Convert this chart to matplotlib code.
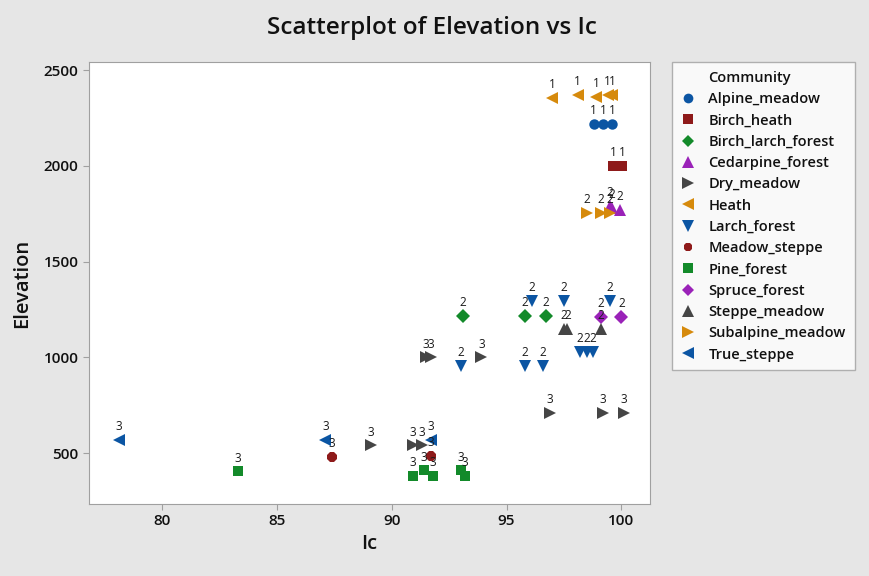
import matplotlib
matplotlib.use("Agg")
import matplotlib.pyplot as plt
from matplotlib.lines import Line2D

plt.rcParams['font.family'] = ['Open Sans', 'DejaVu Sans']

communities = ["Alpine_meadow", "Birch_heath", "Birch_larch_forest", "Cedarpine_forest",
               "Dry_meadow", "Heath", "Larch_forest", "Meadow_steppe", "Pine_forest",
               "Spruce_forest", "Steppe_meadow", "Subalpine_meadow", "True_steppe"]

ic = {
    "Alpine_meadow": [98.8, 99.2, 99.6],
    "Birch_heath": [99.65, 100.05],
    "Birch_larch_forest": [93.1, 95.8, 96.7],
    "Cedarpine_forest": [99.5, 99.6, 99.95],
    "Dry_meadow": [91.5, 91.7, 93.9, 96.9, 99.2, 100.1, 89.1, 90.9, 91.3],
    "Heath": [97.0, 98.1, 98.9, 99.4, 99.6],
    "Larch_forest": [96.1, 97.5, 99.5, 93.0, 95.8, 96.6, 98.2, 98.5, 98.75],
    "Meadow_steppe": [87.4, 91.7],
    "Pine_forest": [83.3, 90.9, 91.4, 91.8, 93.0, 93.2],
    "Spruce_forest": [99.1, 100.0],
    "Steppe_meadow": [97.5, 97.65, 99.1],
    "Subalpine_meadow": [98.5, 99.1, 99.5],
    "True_steppe": [78.1, 87.1, 91.7],
}
elevation = {
    "Alpine_meadow": [2220, 2220, 2220],
    "Birch_heath": [2000, 2000],
    "Birch_larch_forest": [1215, 1215, 1215],
    "Cedarpine_forest": [1790, 1780, 1770],
    "Dry_meadow": [1000, 1000, 1000, 710, 710, 710, 540, 540, 540],
    "Heath": [2355, 2370, 2360, 2370, 2370],
    "Larch_forest": [1295, 1295, 1295, 955, 955, 955, 1030, 1030, 1030],
    "Meadow_steppe": [482, 485],
    "Pine_forest": [405, 380, 410, 380, 410, 380],
    "Spruce_forest": [1210, 1210],
    "Steppe_meadow": [1150, 1150, 1150],
    "Subalpine_meadow": [1755, 1755, 1755],
    "True_steppe": [570, 570, 568],
}
group_label = {
    "Alpine_meadow": "1", "Birch_heath": "1", "Birch_larch_forest": "2",
    "Cedarpine_forest": "2", "Dry_meadow": "3", "Heath": "1", "Larch_forest": "2",
    "Meadow_steppe": "3", "Pine_forest": "3", "Spruce_forest": "2",
    "Steppe_meadow": "2", "Subalpine_meadow": "2", "True_steppe": "3",
}

blue = "#0B55A3"
red = "#8E1A1A"
green = "#138A2A"
purple = "#9A22B8"
gray = "#454545"
orange = "#D68A0C"
style = {
    "Alpine_meadow": ("o", blue, 7.5),
    "Birch_heath": ("s", red, 7.5),
    "Birch_larch_forest": ("D", green, 7),
    "Cedarpine_forest": ("^", purple, 9),
    "Dry_meadow": (">", gray, 9),
    "Heath": ("<", orange, 9),
    "Larch_forest": ("v", blue, 9),
    "Meadow_steppe": ("8", red, 7.5),
    "Pine_forest": ("s", green, 7.5),
    "Spruce_forest": ("D", purple, 7),
    "Steppe_meadow": ("^", gray, 9),
    "Subalpine_meadow": (">", orange, 9),
    "True_steppe": ("<", blue, 9),
}

fig = plt.figure(figsize=(8.7, 5.76), dpi=100, facecolor="#E6E6E6")
ax = fig.add_axes([89/870, 1-504/576, (650-89)/870, (504-62)/576])
ax.set_facecolor("white")

for c in communities:
    m, col, ms = style[c]
    ax.plot(ic[c], elevation[c], linestyle="none", marker=m, color=col,
            markersize=ms, markeredgewidth=0, label=c, zorder=3)

for c in communities:
    for x, y in zip(ic[c], elevation[c]):
        ax.annotate(group_label[c], (x, y), xytext=(0, 9.5), textcoords="offset points",
                    ha="center", va="center", fontsize=8.5, color="#1a1a1a", zorder=4)

ax.set_xlim(76.8, 101.25)
ax.set_ylim(234, 2542)
ax.set_xticks([80, 85, 90, 95, 100])
ax.set_yticks([500, 1000, 1500, 2000, 2500])
for s in ["top", "right", "left", "bottom"]:
    ax.spines[s].set_color("#A0A0A0")
ax.tick_params(axis="both", colors="#A0A0A0", labelcolor="#111111", length=4,
               labelsize=11)
for lbl in ax.get_xticklabels() + ax.get_yticklabels():
    lbl.set_fontweight("semibold")

ax.set_xlabel("Ic", fontsize=14.5, fontweight="semibold", color="#111111", labelpad=4)
ax.set_ylabel("Elevation", fontsize=14.5, fontweight="semibold", color="#111111", labelpad=8)
fig.text(0.497, 0.952, "Scatterplot of Elevation vs Ic", ha="center", va="center",
         fontsize=17.5, fontweight="semibold", color="#111111")

handles = [Line2D([], [], linestyle="none", marker="None")]
labels = ["Community"]
for c in communities:
    m, col, ms = style[c]
    handles.append(Line2D([], [], linestyle="none", marker=m, color=col,
                          markersize=ms - 0.5, markeredgewidth=0))
    labels.append(c)
leg = fig.legend(handles, labels, loc="upper left", bbox_to_anchor=(672/870, 1-62/576),
                 frameon=True, fancybox=False, fontsize=10.5, handlelength=1.0,
                 handletextpad=0.9, labelspacing=0.5, borderpad=0.6, borderaxespad=0)
leg.get_frame().set_edgecolor("#A0A0A0")
leg.get_frame().set_linewidth(1.0)
for t in leg.get_texts():
    t.set_fontweight("semibold")
    t.set_color("#111111")

fig.savefig("out.png", dpi=100, facecolor=fig.get_facecolor())
